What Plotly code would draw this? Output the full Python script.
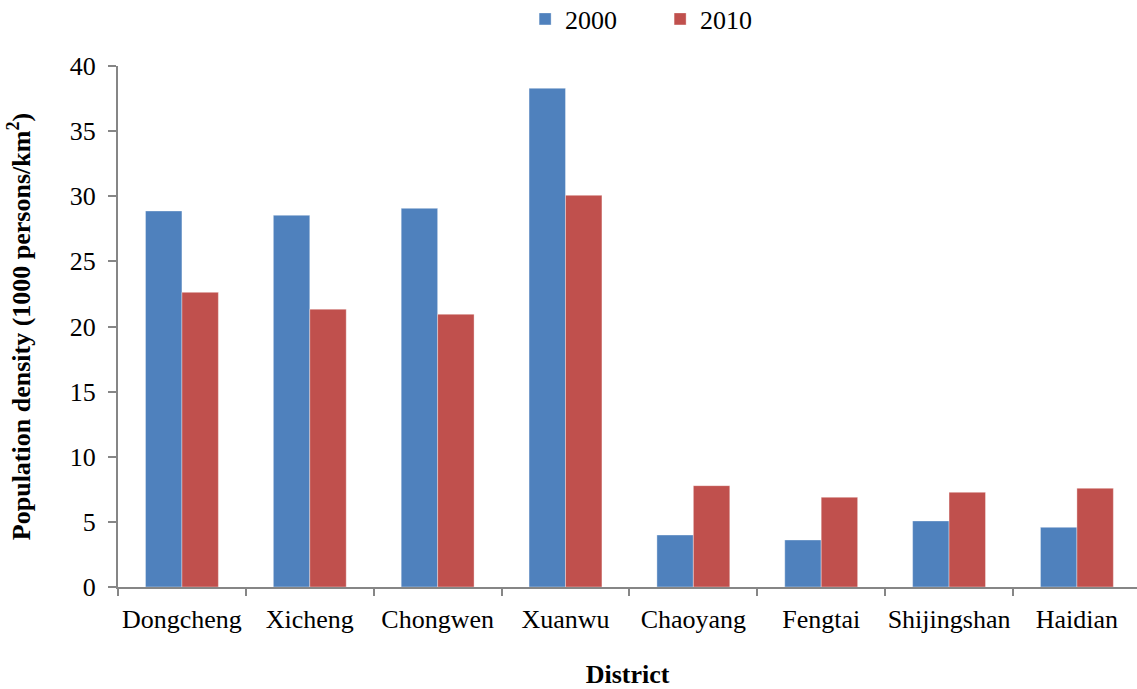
import plotly.graph_objects as go

districts = ["Dongcheng", "Xicheng", "Chongwen", "Xuanwu", "Chaoyang", "Fengtai", "Shijingshan", "Haidian"]
density_2000 = [28.87, 28.54, 29.07, 38.29, 3.99, 3.61, 5.07, 4.58]
density_2010 = [22.62, 21.33, 20.94, 30.07, 7.78, 6.89, 7.27, 7.58]
y_ticks = [0, 5, 10, 15, 20, 25, 30, 35, 40]

FONT = "Liberation Serif, Times New Roman, serif"
AX = "#868686"

fig = go.Figure()
fig.add_trace(go.Bar(name="2000", x=districts, y=density_2000,
                     marker=dict(color="#4F81BD", line=dict(color="rgba(255,255,255,0.45)", width=0.8))))
fig.add_trace(go.Bar(name="2010", x=districts, y=density_2010,
                     marker=dict(color="#C0504D", line=dict(color="rgba(255,255,255,0.45)", width=0.8))))

fig.update_layout(
    width=1137, height=689,
    margin=dict(l=118, r=0, t=66, b=102),
    paper_bgcolor="white", plot_bgcolor="white",
    barmode="group", bargap=0.43, bargroupgap=0,
    font=dict(family=FONT, size=26, color="black"),
    legend=dict(orientation="h", x=0.532, xanchor="center", y=1 - 19 / 689, yanchor="middle",
                yref="container", font=dict(family=FONT, size=26), entrywidth=90,
                itemwidth=30, tracegroupgap=0),
    showlegend=True,
)

fig.update_xaxes(
    range=[-0.5, 7.47], showline=True, linecolor=AX, linewidth=2,
    ticks="outside", tickson="boundaries", ticklen=7, tickcolor=AX, tickwidth=2,
    showgrid=False, tickfont=dict(family=FONT, size=26), tickangle=0, automargin=False,
    ticklabelstandoff=8,
    title=dict(text="<b>District</b>", font=dict(family=FONT, size=26), standoff=39),
)
fig.update_yaxes(
    range=[0, 40], tickvals=y_ticks, showline=True, linecolor=AX, linewidth=2,
    ticks="outside", ticklen=8, tickcolor=AX, tickwidth=2, automargin=False,
    showgrid=False, zeroline=False, tickfont=dict(family=FONT, size=26), ticklabelstandoff=7,
    title=dict(text="<b>Population density (1000 persons/km<sup>2</sup>)</b>",
               font=dict(family=FONT, size=26), standoff=32),
)

fig.write_html("out.html")
